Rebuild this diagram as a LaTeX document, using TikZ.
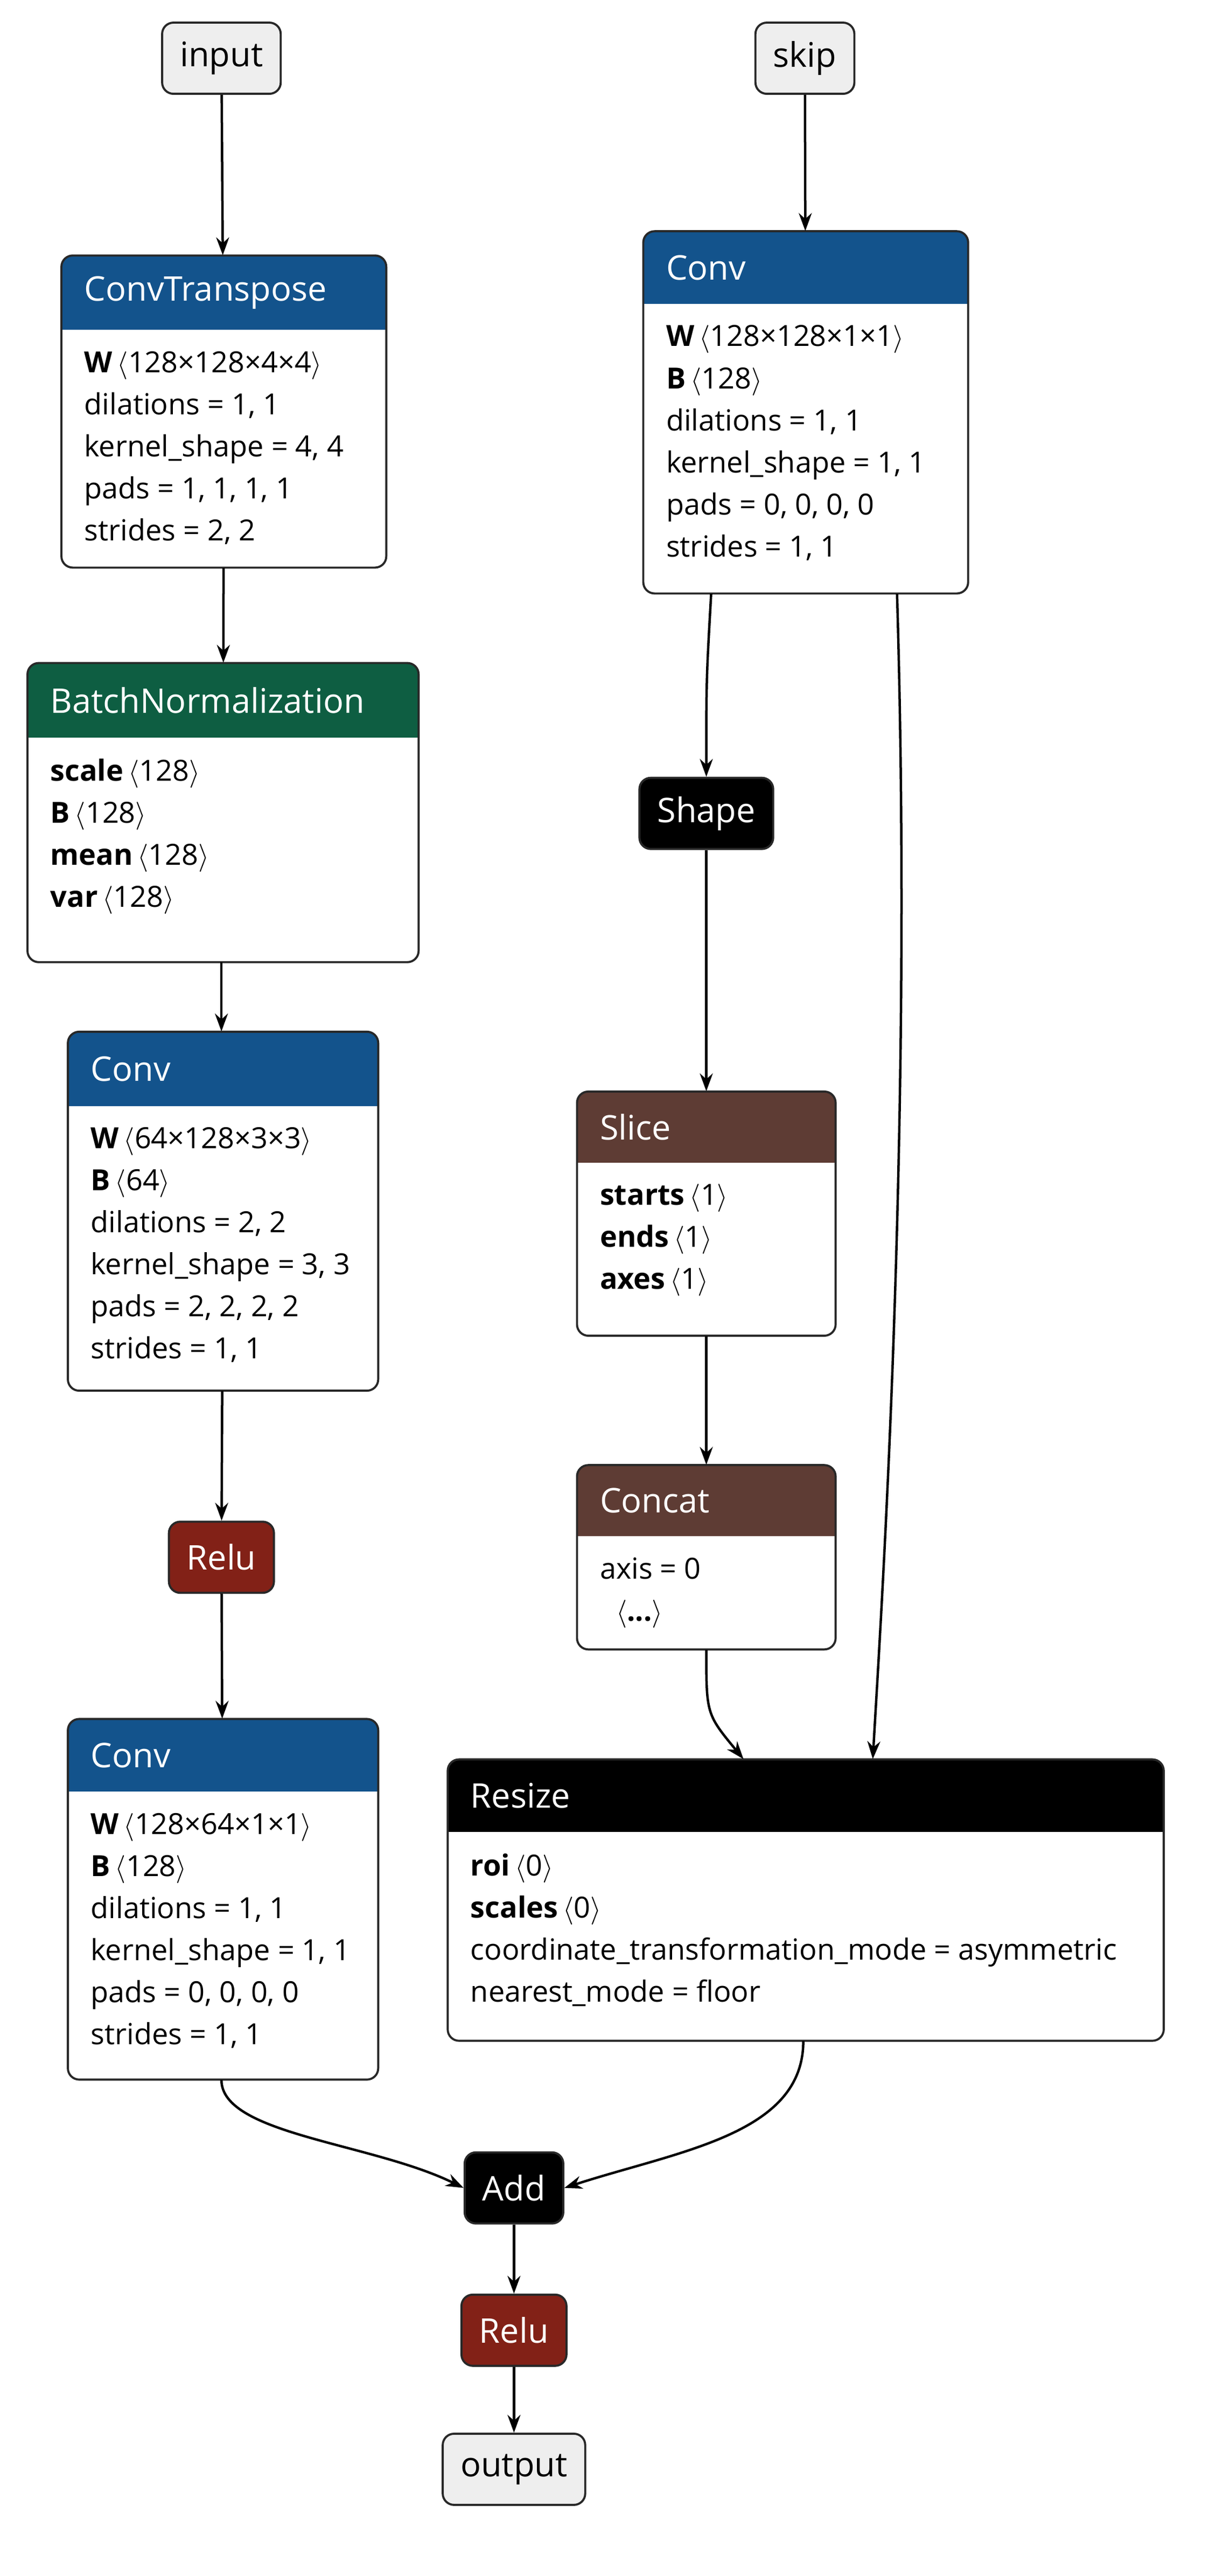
\documentclass[tikz,border=0pt]{standalone}
\usepackage{fontspec}
\setmainfont{Open Sans}
\usetikzlibrary{fit,arrows.meta}
\definecolor{cblue}{RGB}{19,83,140}
\definecolor{cgreen}{RGB}{14,94,66}
\definecolor{cbrown}{RGB}{94,60,52}
\definecolor{cred}{RGB}{130,33,23}
\definecolor{cgray}{RGB}{238,238,238}
\definecolor{cline}{RGB}{40,40,40}
\tikzset{
  x=1pt,y=1pt,
  edge/.style={line width=1.5pt,draw=black,-{Stealth[length=11pt,width=8pt]}},
  simple/.style={rounded corners=7pt,line width=1.3pt,draw=cline,minimum height=44pt,inner xsep=11pt,font=\fontsize{21}{24}\selectfont},
  io/.style={simple,fill=cgray},
  dark/.style={simple,fill=black,text=white},
  redn/.style={simple,fill=cred,text=white},
  body/.style={anchor=north west,align=left,inner sep=0pt,font=\fontsize{18}{26}\selectfont},
  title/.style={anchor=west,text=white,inner sep=0pt,font=\fontsize{21}{24}\selectfont},
}
% name, x1, x2, y1, yh, y2, color, title, body
\newcommand{\opbox}[9]{%
  \begin{scope}
    \clip[rounded corners=7pt] (#2,-#4) rectangle (#3,-#6);
    \fill[#7] (#2,-#4) rectangle (#3,-#5);
  \end{scope}
  \draw[rounded corners=7pt,line width=1.3pt,draw=cline] (#2,-#4) rectangle (#3,-#6);
  \node[fit={(#2,-#4)(#3,-#6)},inner sep=0pt] (#1) {};
  \node[title] at ({#2+14},{-(#4+#5)/2}) {#8};
  \node[body] at ({#2+14},{-#5-13}) {#9};
}
\newcommand{\ang}[1]{\,$\langle$#1$\rangle$}
\begin{document}
\begin{tikzpicture}
\useasboundingbox (0,0) rectangle (748,-1593);
\node[io] (input) at (137,-36) {input};
\node[io] (skip) at (498,-36) {skip};
\opbox{ct}{38}{239}{158}{204}{351}{cblue}{ConvTranspose}{\textbf{W}\ang{128×128×4×4}\\dilations = 1, 1\\kernel\_shape = 4, 4\\pads = 1, 1, 1, 1\\strides = 2, 2}
\opbox{bn}{17}{259}{410}{456}{595}{cgreen}{BatchNormalization}{\textbf{scale}\ang{128}\\\textbf{B}\ang{128}\\\textbf{mean}\ang{128}\\\textbf{var}\ang{128}}
\opbox{conva}{42}{234}{638}{684}{860}{cblue}{Conv}{\textbf{W}\ang{64×128×3×3}\\\textbf{B}\ang{64}\\dilations = 2, 2\\kernel\_shape = 3, 3\\pads = 2, 2, 2, 2\\strides = 1, 1}
\node[redn] (relua) at (137,-963) {Relu};
\opbox{convb}{42}{234}{1063}{1108}{1286}{cblue}{Conv}{\textbf{W}\ang{128×64×1×1}\\\textbf{B}\ang{128}\\dilations = 1, 1\\kernel\_shape = 1, 1\\pads = 0, 0, 0, 0\\strides = 1, 1}
\opbox{convs}{398}{599}{143}{188}{367}{cblue}{Conv}{\textbf{W}\ang{128×128×1×1}\\\textbf{B}\ang{128}\\dilations = 1, 1\\kernel\_shape = 1, 1\\pads = 0, 0, 0, 0\\strides = 1, 1}
\node[dark] (shape) at (437,-503) {Shape};
\opbox{slice}{357}{517}{675}{719}{826}{cbrown}{Slice}{\textbf{starts}\ang{1}\\\textbf{ends}\ang{1}\\\textbf{axes}\ang{1}}
\opbox{concat}{357}{517}{906}{950}{1020}{cbrown}{Concat}{axis = 0\\\hspace{10pt}\textbf{$\langle$...$\rangle$}}
\opbox{resize}{277}{720}{1088}{1133}{1262}{black}{Resize}{\textbf{roi}\ang{0}\\\textbf{scales}\ang{0}\\coordinate\_transformation\_mode = asymmetric\\nearest\_mode = floor}
\node[dark] (add) at (318,-1353) {Add};
\node[redn] (relub) at (318,-1441) {Relu};
\node[io] (output) at (318,-1527) {output};

\draw[edge] (input) -- (ct);
\draw[edge] (ct) -- (bn);
\draw[edge] (bn.south -| 137,0) -- (conva.north -| 137,0);
\draw[edge] (conva) -- (relua);
\draw[edge] (relua) -- (convb);
\draw[edge] (skip) -- (convs);
\draw[edge] (convs.south -| 440,0) .. controls (437,-420) .. (shape.north);
\draw[edge] (convs.south -| 555,0) .. controls (565,-700) and (545,-1000) .. (resize.north -| 540,0);
\draw[edge] (shape) -- (slice.north -| shape);
\draw[edge] (slice.south -| 437,0) -- (concat.north -| 437,0);
\draw[edge] (concat.south -| 437,0) .. controls (437,-1060) .. (resize.north -| 460,0);
\draw[edge] (convb.south -| 137,0) .. controls (137,-1320) and (230,-1325) .. (add.west);
\draw[edge] (resize.south -| 497,0) .. controls (497,-1320) and (420,-1330) .. (add.east);
\draw[edge] (add) -- (relub);
\draw[edge] (relub) -- (output);
\end{tikzpicture}
\end{document}
